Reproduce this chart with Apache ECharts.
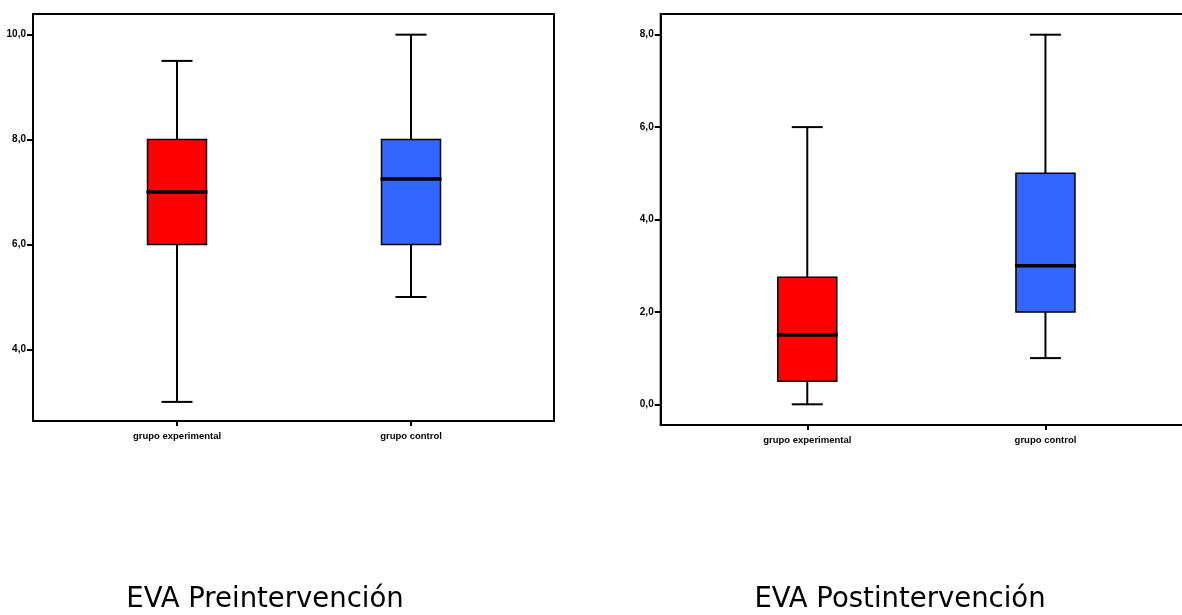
<!DOCTYPE html>
<html>
<head>
<meta charset="utf-8">
<script src="https://cdn.jsdelivr.net/npm/echarts@6/dist/echarts.min.js"></script>
<style>
  html, body { margin: 0; padding: 0; background: #fff; }
  #chart { width: 1182px; height: 615px; }
</style>
</head>
<body>
<div id="chart"></div>
<script>
// categorias (x = 0, 1)
const categories = ['grupo experimental', 'grupo control'];
const boxColors = ['#ff0000', '#3366ff'];

// EVA pre
const preMin = [3, 5];
const preQ1 = [6, 6];
const preMedian = [7, 7.25];
const preQ3 = [8, 8];
const preMax = [9.5, 10];
const preTicks = [4, 6, 8, 10];

// EVA post
const postMin = [0, 1];
const postQ1 = [0.5, 2];
const postMedian = [1.5, 3];
const postQ3 = [2.75, 5];
const postMax = [6, 8];
const postTicks = [0, 2, 4, 6, 8];

const titles = ['EVA Preintervención', 'EVA Postintervención'];

function buildData(mins, q1s, meds, q3s, maxs) {
    return categories.map((c, i) => [i, mins[i], q1s[i], meds[i], q3s[i], maxs[i]]);
}

const fmt = v => v.toFixed(1).replace('.', ',');

// dibuja caja y bigotes con las escalas del eje
function renderBox(params, api) {
    const x = api.value(0);
    const pMin = api.coord([x, api.value(1)]);
    const pQ1 = api.coord([x, api.value(2)]);
    const pMed = api.coord([x, api.value(3)]);
    const pQ3 = api.coord([x, api.value(4)]);
    const pMax = api.coord([x, api.value(5)]);
    const cx = pMed[0];
    const boxW = 59;
    const capW = 31;
    const lineStyle = { stroke: '#000', lineWidth: 2 };
    return {
        type: 'group',
        children: [
            { type: 'line', shape: { x1: cx, y1: pMin[1], x2: cx, y2: pQ1[1] }, style: lineStyle },
            { type: 'line', shape: { x1: cx, y1: pQ3[1], x2: cx, y2: pMax[1] }, style: lineStyle },
            { type: 'line', shape: { x1: cx - capW / 2, y1: pMin[1], x2: cx + capW / 2, y2: pMin[1] }, style: lineStyle },
            { type: 'line', shape: { x1: cx - capW / 2, y1: pMax[1], x2: cx + capW / 2, y2: pMax[1] }, style: lineStyle },
            {
                type: 'rect',
                shape: { x: cx - boxW / 2, y: pQ3[1], width: boxW, height: pQ1[1] - pQ3[1] },
                style: { fill: boxColors[params.dataIndex], stroke: '#000', lineWidth: 1.5 }
            },
            { type: 'line', shape: { x1: cx - boxW / 2 - 1, y1: pMed[1], x2: cx + boxW / 2 + 1, y2: pMed[1] }, style: { stroke: '#000', lineWidth: 3.5 } }
        ]
    };
}

function xAxisFor(gridIndex) {
    return {
        type: 'value',
        gridIndex: gridIndex,
        min: -0.6154,
        max: 1.6111,
        axisLine: { show: true, onZero: false, lineStyle: { color: '#000', width: 2 } },
        axisTick: { show: true, customValues: [0, 1], length: 5, lineStyle: { color: '#000', width: 2 } },
        axisLabel: {
            customValues: [0, 1],
            formatter: v => categories[Math.round(v)],
            color: '#000',
            fontFamily: 'Liberation Sans, Arial, sans-serif',
            fontWeight: 'bold',
            fontSize: 9.5,
            margin: 10
        },
        splitLine: { show: false }
    };
}

function yAxisFor(gridIndex, min, max, ticks) {
    return {
        type: 'value',
        gridIndex: gridIndex,
        min: min,
        max: max,
        axisLine: { show: true, onZero: false, lineStyle: { color: '#000', width: 2 } },
        axisTick: { show: true, customValues: ticks, length: 6, lineStyle: { color: '#000', width: 2 } },
        axisLabel: {
            customValues: ticks,
            formatter: fmt,
            color: '#000',
            fontFamily: 'Liberation Sans, Arial, sans-serif',
            fontWeight: 'bold',
            fontSize: 10,
            margin: 7
        },
        splitLine: { show: false }
    };
}

const chart = echarts.init(document.getElementById('chart'));
chart.setOption({
    animation: false,
    backgroundColor: '#fff',
    grid: [
        { left: 33, top: 14, width: 521, height: 407, show: true, borderColor: '#000', borderWidth: 2, backgroundColor: 'transparent' },
        { left: 660.7, top: 14, right: -9, height: 411, outerBoundsMode: 'none', show: true, borderColor: '#000', borderWidth: 2, backgroundColor: 'transparent' }
    ],
    xAxis: [xAxisFor(0), xAxisFor(1)],
    yAxis: [
        yAxisFor(0, 2.636, 10.394, preTicks),
        yAxisFor(1, -0.448, 8.448, postTicks)
    ],
    series: [
        {
            type: 'custom',
            xAxisIndex: 0,
            yAxisIndex: 0,
            renderItem: renderBox,
            encode: { x: 0, y: [1, 2, 3, 4, 5] },
            data: buildData(preMin, preQ1, preMedian, preQ3, preMax),
            clip: false
        },
        {
            type: 'custom',
            xAxisIndex: 1,
            yAxisIndex: 1,
            renderItem: renderBox,
            encode: { x: 0, y: [1, 2, 3, 4, 5] },
            data: buildData(postMin, postQ1, postMedian, postQ3, postMax),
            clip: false
        }
    ],
    graphic: [
        { type: 'text', x: 265, y: 600, style: { text: titles[0], fill: '#000', font: '27.5px "DejaVu Sans", sans-serif', textAlign: 'center', textVerticalAlign: 'middle' } },
        { type: 'text', x: 900, y: 600, style: { text: titles[1], fill: '#000', font: '27.5px "DejaVu Sans", sans-serif', textAlign: 'center', textVerticalAlign: 'middle' } }
    ]
});
window.addEventListener('resize', () => {
    chart.resize();
});
</script>
</body>
</html>
